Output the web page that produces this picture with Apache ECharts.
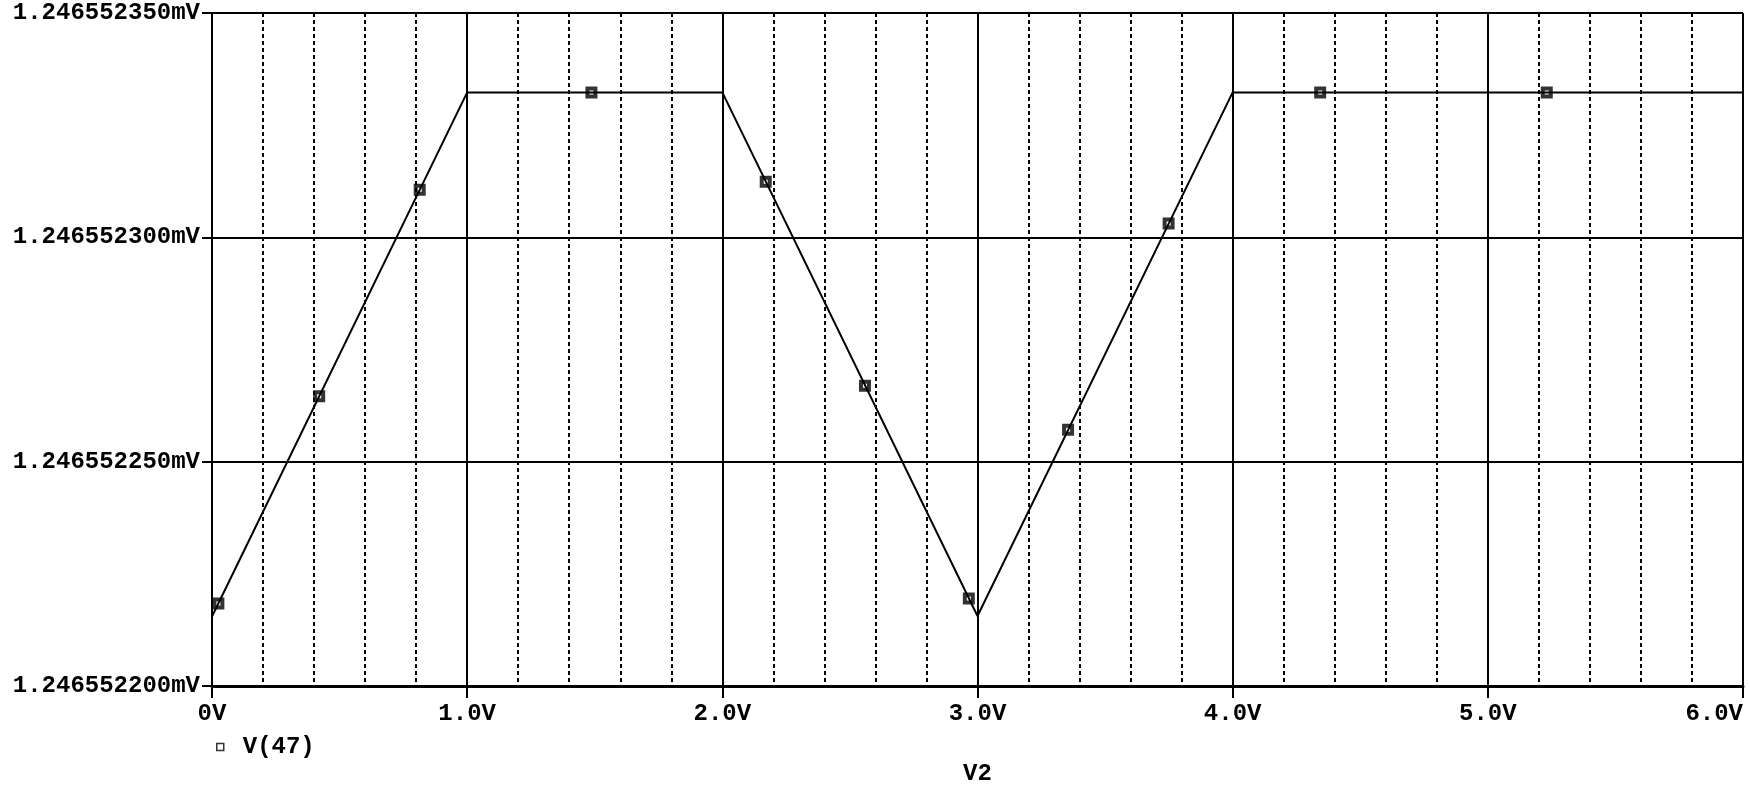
<!DOCTYPE html>
<html>
<head>
<meta charset="utf-8">
<script src="https://cdn.jsdelivr.net/npm/echarts@6/dist/echarts.min.js"></script>
<style>
  html, body { margin: 0; padding: 0; background: #fff; }
  #chart { width: 1750px; height: 788px; }
</style>
</head>
<body>
<div id="chart"></div>
<script>
// ---- data (values in mV; sweep variable V2 in volts) ----
const Y_BASE = 1.2465522;               // mV, bottom of the plot
const traceV2 = [0, 1, 2, 3, 4, 6];
const traceV47 = [1.2465522155, 1.2465523323, 1.2465523323, 1.2465522156, 1.2465523323, 1.2465523323];
const markerV2 = [0.025, 0.420, 0.814, 1.487, 2.170, 2.559, 2.966, 3.355, 3.749, 4.343, 5.231];
const markerV47 = [1.2465522184, 1.2465522646, 1.2465523106, 1.2465523323, 1.2465523124, 1.2465522669,
                   1.2465522195, 1.2465522571, 1.2465523031, 1.2465523323, 1.2465523323];
const xTickLabels = ['0V', '1.0V', '2.0V', '3.0V', '4.0V', '5.0V', '6.0V'];
const yTickLabels = ['1.246552200mV', '1.246552250mV', '1.246552300mV', '1.246552350mV'];
const seriesName = 'V(47)';
const xAxisName = 'V2';

// offset in units of 1e-9 mV above Y_BASE (keeps axis arithmetic exact)
const toOff = v => Math.round((v - Y_BASE) * 1e10) / 10;
const traceData = traceV2.map((x, i) => [x, toOff(traceV47[i])]);
const markerData = markerV2.map((x, i) => [x, toOff(markerV47[i])]);

const FONT = 'Liberation Mono';
const txt = { color: '#000', fontFamily: FONT, fontWeight: 'bold', fontSize: 24 };

const chart = echarts.init(document.getElementById('chart'), null, { renderer: 'canvas' });
chart.setOption({
  animation: false,
  backgroundColor: '#fff',
  grid: { left: 212, right: 7, top: 13, bottom: 102, containLabel: false, outerBoundsMode: 'none' },
  legend: {
    data: [seriesName],
    left: 211, top: 730,
    itemWidth: 7, itemHeight: 7,
    icon: 'rect',
    itemStyle: { color: '#fff', borderColor: '#000', borderWidth: 1.5 },
    textStyle: Object.assign({}, txt, { padding: [0, 0, 0, 14] })
  },
  xAxis: {
    type: 'value', min: 0, max: 6, interval: 1,
    name: xAxisName, nameLocation: 'middle', nameGap: 76,
    nameTextStyle: txt,
    axisLine: { show: true, lineStyle: { color: '#000', width: 3 } },
    axisTick: { show: true, inside: false, length: 12, lineStyle: { color: '#000', width: 2 } },
    axisLabel: Object.assign({}, txt, {
      margin: 16, alignMaxLabel: 'right',
      formatter: v => xTickLabels[Math.round(v)]
    }),
    splitLine: { show: true, lineStyle: { color: '#000', width: 2 } },
    minorTick: { show: false, splitNumber: 5 },
    minorSplitLine: { show: true, lineStyle: { color: '#000', width: 2, type: [4, 3] } }
  },
  yAxis: {
    type: 'value', min: 0, max: 150, interval: 50,
    axisLine: { show: true, lineStyle: { color: '#000', width: 2 } },
    axisTick: { show: true, inside: false, length: 10, lineStyle: { color: '#000', width: 2 } },
    axisLabel: Object.assign({}, txt, {
      margin: 12,
      formatter: v => yTickLabels[Math.round(v / 50)]
    }),
    splitLine: { show: true, lineStyle: { color: '#000', width: 2 } }
  },
  series: [
    {
      name: seriesName + ' trace',
      type: 'line',
      data: traceData,
      symbol: 'none',
      z: 4,
      lineStyle: { color: '#000', width: 2 }
    },
    {
      name: seriesName,
      type: 'scatter',
      data: markerData,
      symbol: 'rect',
      symbolSize: 8,
      z: 3,
      itemStyle: { color: 'rgba(255,255,255,0)', borderColor: '#000', borderWidth: 4 }
    }
  ]
});
</script>
</body>
</html>
